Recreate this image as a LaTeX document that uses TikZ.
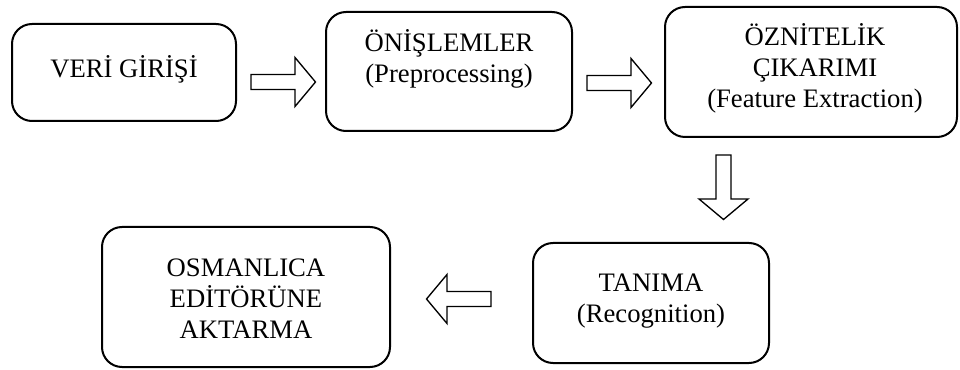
\documentclass[tikz,border=0pt]{standalone}
\usepackage{fontspec}
\setmainfont{Liberation Serif}
\begin{document}
\begin{tikzpicture}[x=0.75pt,y=-0.75pt,
  box/.style={draw=black, line width=1.5pt, rounded corners=15pt, inner sep=0pt, outer sep=0pt},
  txt/.style={font=\fontsize{20}{23.25}\selectfont, align=center, inner sep=0pt, anchor=base},
  arrowline/.style={draw=black, line width=1pt, line join=miter, fill=white},
  barrow/.pic={\path[arrowline] (0,-7.5) -- (44,-7.5) -- (44,-24.5) -- (64.5,0) -- (44,24.5) -- (44,7.5) -- (0,7.5) -- cycle;}
]
\useasboundingbox (0,0) rectangle (960,370);
% boxes
\node[box, minimum width=224*0.75pt, minimum height=97*0.75pt] (b1) at (124,72.5) {};
\node[box, minimum width=246*0.75pt, minimum height=119*0.75pt] (b2) at (449,71.5) {};
\node[box, minimum width=292*0.75pt, minimum height=130*0.75pt] (b3) at (811,72) {};
\node[box, minimum width=236*0.75pt, minimum height=120*0.75pt] (b4) at (651,303) {};
\node[box, minimum width=288*0.75pt, minimum height=140*0.75pt] (b5) at (246,297) {};
% texts (anchor at baseline of last line)
\node[txt] (t1) at (124,78) {VERİ GİRİŞİ};
\node[txt] (t2) at (449,83) {ÖNİŞLEMLER\\(Preprocessing)};
\node[txt] (t3) at (815,108) {ÖZNİTELİK\\ÇIKARIMI\\(Feature Extraction)};
\node[txt] (t4) at (651,322) {TANIMA\\(Recognition)};
\node[txt] (t5) at (246,338) {OSMANLICA\\EDİTÖRÜNE\\AKTARMA};
% block arrows
\pic at (251,82) {barrow};
\pic at (587,83) {barrow};
\pic[rotate=-90] at (723.5,155) {barrow};
\pic[rotate=180] at (491,299) {barrow};
\end{tikzpicture}
\end{document}
